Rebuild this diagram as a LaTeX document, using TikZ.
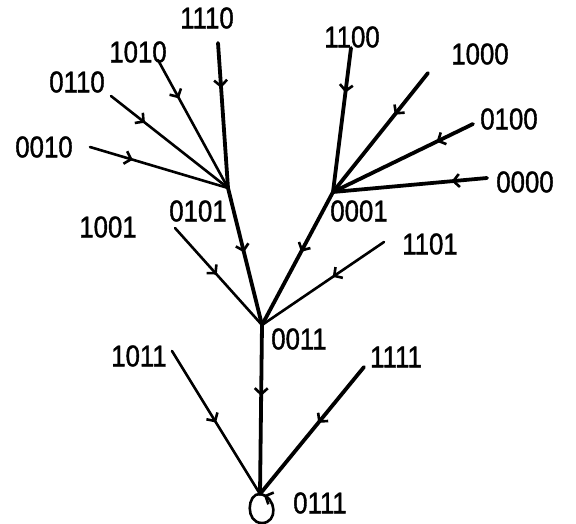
\documentclass[tikz,border=0pt]{standalone}
\usepackage{fontspec}
\newfontfamily\labfont[FakeStretch=0.86,FakeBold=1.2]{Liberation Sans}
\usetikzlibrary{arrows.meta,decorations.markings}
\tikzset{
  lab/.style={font=\labfont\fontsize{30}{30}\selectfont, inner sep=0pt, text=black},
  thickedge/.style={line width=3.8pt, black, line cap=round},
  thinedge/.style={line width=2.6pt, black, line cap=round},
  arr/.style={postaction={decorate}, decoration={markings, mark=at position #1 with {\arrow{Straight Barb[length=6pt,width=13pt,line width=2.6pt]}}}}
}
\begin{document}
\begin{tikzpicture}[x=1pt,y=-1pt]
\useasboundingbox[fill=white] (0,0) rectangle (576,524);
% junctions
\coordinate (j0101) at (228,188);
\coordinate (j0001) at (333,192);
\coordinate (j0011) at (262,325);
\coordinate (j0111) at (260,494);
% leaf line ends
\coordinate (e1110) at (218,43);
\coordinate (e1010) at (158,60);
\coordinate (e0110) at (111,96);
\coordinate (e0010) at (90,147);
\coordinate (e1001) at (175,228);
\coordinate (e1100) at (351,48);
\coordinate (e1000) at (428,73);
\coordinate (e0100) at (473,124);
\coordinate (e0000) at (487,178);
\coordinate (e1101) at (384,242);
\coordinate (e1011) at (172,351);
\coordinate (e1111) at (364,367);
% labels
\node[lab] (l1110) at (207,18) {1110};
\node[lab] (l1010) at (138,52) {1010};
\node[lab] (l0110) at (77,82) {0110};
\node[lab] (l0010) at (44,147) {0010};
\node[lab] (l1001) at (108,227) {1001};
\node[lab] (l0101) at (198,211) {0101};
\node[lab] (l1100) at (352,37) {1100};
\node[lab] (l1000) at (480,54) {1000};
\node[lab] (l0100) at (509,119) {0100};
\node[lab] (l0000) at (525,182) {0000};
\node[lab] (l0001) at (359,211) {0001};
\node[lab] (l1101) at (430,244) {1101};
\node[lab] (l0011) at (299,339) {0011};
\node[lab] (l1011) at (139,356) {1011};
\node[lab] (l1111) at (396,357) {1111};
\node[lab] (l0111) at (320,503) {0111};
% edges into 0101
\draw[thickedge, arr=0.31] (e1110) -- (j0101);
\draw[thinedge, arr=0.30] (e1010) -- (j0101);
\draw[thinedge, arr=0.29] (e0110) -- (j0101);
\draw[thinedge, arr=0.31] (e0010) -- (j0101);
% edges into 0001
\draw[thickedge, arr=0.31] (e1100) -- (j0001);
\draw[thickedge, arr=0.35] (e1000) -- (j0001);
\draw[thickedge, arr=0.26] (e0100) -- (j0001);
\draw[thickedge, arr=0.23] (e0000) -- (j0001);
% edges into 0011
\draw[thickedge, arr=0.47] (j0101) -- (j0011);
\draw[thinedge, arr=0.48] (e1001) -- (j0011);
\draw[thickedge, arr=0.45] (j0001) -- (j0011);
\draw[thinedge, arr=0.42] (e1101) -- (j0011);
% edges into 0111
\draw[thickedge, arr=0.42] (j0011) -- (j0111);
\draw[thinedge, arr=0.50] (e1011) -- (j0111);
\draw[thickedge, arr=0.44] (e1111) -- (j0111);
% self loop
\draw[thinedge, arr=0.95] (j0111) .. controls (247,493) and (245,523) .. (262,523) .. controls (278,523) and (277,497) .. (j0111);
\end{tikzpicture}
\end{document}
